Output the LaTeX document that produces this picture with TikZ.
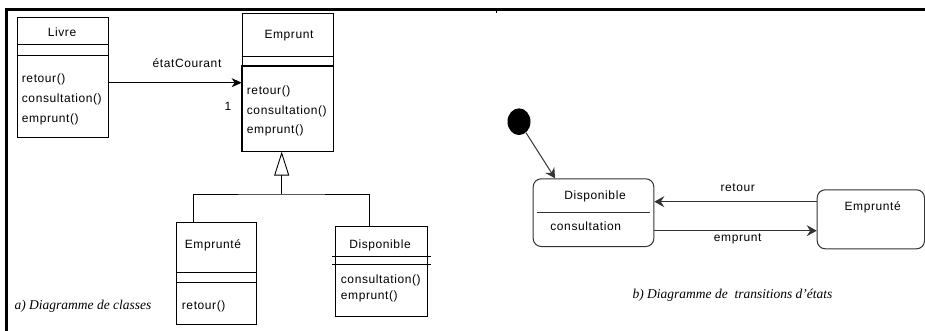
\documentclass[tikz,border=0pt]{standalone}
\usepackage{fontspec}
\newfontfamily\umlfont{Liberation Sans}[LetterSpace=5]
\newfontfamily\capfont{Liberation Serif}
\usetikzlibrary{arrows.meta,shapes.geometric}

\tikzset{
  uml/.style={font=\umlfont\fontsize{12}{14}\selectfont, inner sep=0pt},
  classbox/.style={draw, line width=0.9pt, inner sep=0pt, anchor=north west},
  statebox/.style={draw=black!80, rounded corners=8pt, line width=1pt, inner sep=0pt, anchor=north west},
  member/.style={uml, anchor=west},
  caption/.style={font=\capfont\itshape\fontsize{13.5}{15}\selectfont, inner sep=0pt},
  assoc/.style={line width=0.9pt, -{Stealth[length=10pt,width=9pt,inset=3pt]}},
  trans/.style={draw=black!80, line width=1pt, -{Stealth[length=10pt,width=11pt,inset=3.5pt]}},
}

\begin{document}
\begin{tikzpicture}[x=1pt,y=-1pt]
\useasboundingbox (0,0) rectangle (925,331);

% frame of the table
\draw[line width=3pt] (6,331) -- (6,10) -- (925,10);
\draw[line width=1pt] (496.7,10) -- (496.7,13.5);

% ---------- a) class diagram ----------
% Livre
\node[classbox, line width=1.4pt, minimum width=91pt, minimum height=120pt] (livre) at (16.7,16.7) {};
\draw[line width=0.9pt] (livre.west |- 0,44.3) -- (livre.east |- 0,44.3);
\draw[line width=0.9pt] (livre.west |- 0,55) -- (livre.east |- 0,55);
\node[uml] (livreName) at (62,32) {Livre};
\node[member] (livreM1) at (21.7,79) {retour()};
\node[member] (livreM2) at (21.7,99) {consultation()};
\node[member] (livreM3) at (21.7,119) {emprunt()};

% Emprunt
\node[classbox, minimum width=91pt, minimum height=137.4pt] (emprunt) at (241.7,13.3) {};
\draw[line width=0.9pt] (emprunt.west |- 0,56) -- (emprunt.east |- 0,56);
\draw[line width=1.7pt] (emprunt.west |- 0,66) -- (emprunt.east |- 0,66)
  -- (emprunt.south east) -- (emprunt.south west) -- cycle;
\node[uml] (empruntName) at (289,35.7) {Emprunt};
\node[member] (empruntM1) at (246.7,91.7) {retour()};
\node[member] (empruntM2) at (246.7,111) {consultation()};
\node[member] (empruntM3) at (246.7,130.7) {emprunt()};

% association Livre -> Emprunt
\draw[assoc] (livre.east |- 0,82.7) -- (emprunt.west |- 0,82.7);
\node[uml] (roleName) at (187,63) {étatCourant};
\node[uml] (mult) at (228,106) {1};

% Emprunté
\node[classbox, minimum width=80pt, minimum height=102pt] (emprunte) at (176,222.3) {};
\draw[line width=0.9pt] (emprunte.west |- 0,272.7) -- (emprunte.east |- 0,272.7);
\draw[line width=0.9pt] (emprunte.west |- 0,282) -- (emprunte.east |- 0,282);
\node[uml] (emprunteName) at (213,245) {Emprunté};
\node[member] (emprunteM1) at (181.7,306.7) {retour()};

% Disponible
\node[classbox, minimum width=91.7pt, minimum height=90.3pt] (dispo) at (335,225.7) {};
\draw[line width=0.9pt] (332,256.7) -- (430.7,256.7);
\draw[line width=0.9pt] (332,264) -- (430.7,264);
\node[uml] (dispoName) at (380,245) {Disponible};
\node[member] (dispoM1) at (340.7,280) {consultation()};
\node[member] (dispoM2) at (340.7,296) {emprunt()};

% generalisation
\coordinate (gen) at (281.7,194);
\draw[line width=0.9pt, -{Triangle[open,length=24pt,width=15pt]}] (gen) -- (emprunt.south -| gen);
\draw[line width=0.9pt] (emprunte.north -| 193.3,0) |- (gen) -| (dispo.north -| 369.3,0);

\node[caption] (capA) at (83,306.7) {a) Diagramme de classes};

% ---------- b) state transition diagram ----------
\node[fill, ellipse, minimum width=23pt, minimum height=26.7pt, inner sep=0pt] (init) at (519,121.7) {};

\node[statebox, minimum width=120.6pt, minimum height=67.7pt] (dispoS) at (532.7,178.3) {};
\draw[black!80, line width=1pt] (536.7,212.7) -- (650,212.7);
\node[uml] (dispoSName) at (595,196.7) {Disponible};
\node[uml] (dispoSAct) at (585.7,226) {consultation};

\node[statebox, minimum width=107.3pt, minimum height=59pt] (empS) at (816.7,189.3) {};
\node[uml] (empSName) at (872.7,207.7) {Emprunté};

\draw[trans] (init) -- (dispoS.north -| 555,0);
\draw[trans] (empS.west |- 0,201.7) -- (dispoS.east |- 0,201.7);
\draw[trans] (dispoS.east |- 0,230.7) -- (empS.west |- 0,230.7);
\node[uml] (retourLbl) at (737.7,187.7) {retour};
\node[uml] (empruntLbl) at (737.7,239) {emprunt};

\node[caption] (capB) at (732.5,295) {b) Diagramme de\ \ transitions d’états};
\end{tikzpicture}
\end{document}
